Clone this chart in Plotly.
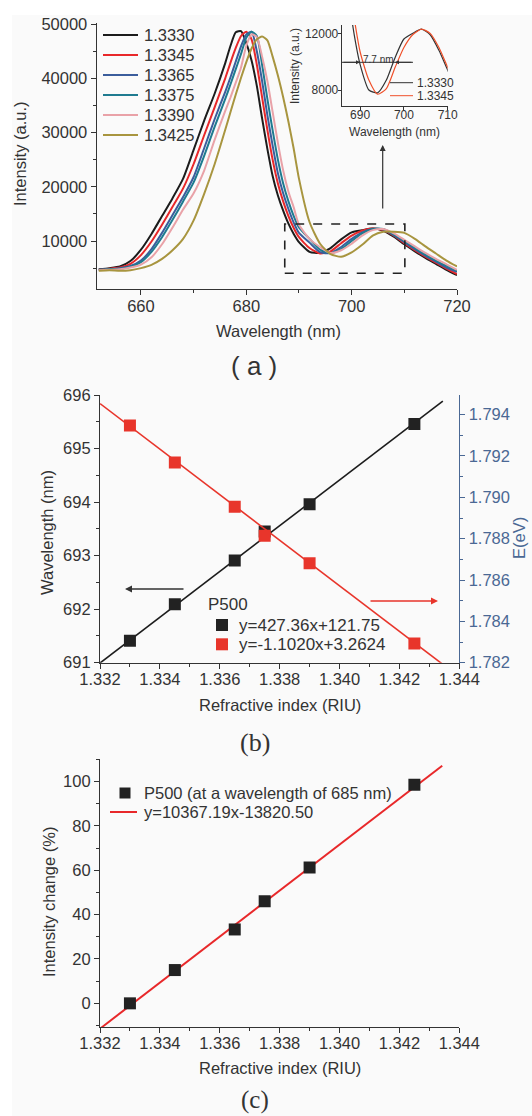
import plotly.graph_objects as go

W, H = 532, 1116

# ---------------- Panel (a): emission spectra ----------------
WAVELENGTH_NM = [652, 654, 656, 658, 660, 662, 664, 666, 668, 670, 672, 674, 676,
                 677, 678, 679, 680, 681, 682, 683, 684, 685, 686, 687, 688, 689, 690,
                 692, 694, 696, 698, 700, 702, 704, 706, 708, 710, 712, 714, 716, 718, 720]

RI_LABELS = ["1.3330", "1.3345", "1.3365", "1.3375", "1.3390", "1.3425"]

INT_13330 = [4800, 5000, 5300, 6300, 8400, 11300, 14600, 17900, 21500, 26800, 32200, 37200, 42800,
             46000, 48500, 48700, 46500, 43300, 38600, 32600, 27000, 22000, 18400, 15600, 13200, 11300, 9800,
             8000, 7800, 8700, 10300, 11600, 12000, 12300, 11900, 10800, 9400, 8100, 6900, 5800, 4700, 3700]
INT_13345 = [4700, 4900, 5100, 5800, 7400, 9900, 13000, 16300, 19700, 24200, 29500, 34700, 40000,
             42900, 45600, 47800, 48600, 47200, 42500, 36500, 30500, 25000, 20600, 17300, 14600, 12400, 10700,
             8700, 7700, 8100, 9600, 11000, 11900, 12300, 12000, 11000, 9600, 8300, 7100, 6000, 4900, 3900]
INT_13365 = [4700, 4800, 5000, 5400, 6400, 8500, 11500, 14800, 18100, 21800, 27100, 32500, 37500,
             40200, 43100, 45900, 48100, 48600, 45000, 39500, 33200, 27600, 22500, 18800, 15900, 13400, 11500,
             9700, 7950, 7750, 8900, 10400, 11600, 12200, 12100, 11100, 9800, 8500, 7300, 6200, 5100, 4300]
INT_13375 = [4700, 4800, 4900, 5250, 6100, 8000, 10700, 13900, 17300, 20800, 25700, 31100, 36200,
             38900, 41700, 44500, 47500, 48600, 47800, 42500, 36200, 30400, 25000, 20600, 17300, 14600, 12500,
             10400, 8400, 7750, 8500, 10000, 11400, 12200, 12200, 11200, 10000, 8700, 7500, 6400, 5400, 4500]
INT_13390 = [4600, 4700, 4800, 5100, 5650, 7000, 9400, 12500, 15800, 18800, 23000, 28700, 34000,
             36500, 39200, 42000, 46000, 48100, 47600, 44000, 39500, 33800, 28100, 23000, 19100, 16200, 13000,
             10400, 8900, 7800, 8300, 9500, 11000, 12000, 12200, 11400, 10200, 9000, 7800, 6700, 5700, 4700]
INT_13425 = [4500, 4600, 4500, 4600, 5000, 5600, 6700, 8300, 10400, 13800, 18700, 24200, 30500,
             33800, 37000, 40100, 43000, 45500, 47200, 47700, 47000, 44000, 40500, 36500, 32000, 27000, 21500,
             13500, 9500, 7600, 7100, 7900, 9300, 11000, 11700, 11700, 11500, 10400, 9000, 7700, 6400, 5300]

SPECTRA = [INT_13330, INT_13345, INT_13365, INT_13375, INT_13390, INT_13425]
LINE_COLORS = ["#1c1c1c", "#e8282a", "#3b5d9c", "#1f7b90", "#e9a2a8", "#a8953f"]
INSET_COLORS = ["#333333", "#f0502a"]

# ---------------- Panel (b): dip wavelength / energy ----------------
RI = [1.3330, 1.3345, 1.3365, 1.3375, 1.3390, 1.3425]
DIP_WL = [691.41, 692.09, 692.91, 693.45, 693.96, 695.46]
DIP_E = [1.79348, 1.79169, 1.78954, 1.78814, 1.78681, 1.78293]
WL_FIT = (427.36, 121.75)
E_FIT = (-1.1020, 3.2624)
FIT_X_B = [1.332, 1.34345]

# ---------------- Panel (c): intensity change ----------------
INT_CHANGE = [0.0, 15.0, 33.3, 46.0, 61.2, 98.5]
IC_FIT = (10367.19, -13820.50)
FIT_X_C = [1.332, 1.34343]

FONT = "Liberation Sans, Arial, sans-serif"
SERIF = "Liberation Serif, Times New Roman, serif"
TXT = "#333333"
BLUE_AX = "#4a6894"


def px(x):
    return x / W


def py(y):
    return 1 - y / H


fig = go.Figure()

for lab, ys, col in zip(RI_LABELS, SPECTRA, LINE_COLORS):
    fig.add_trace(go.Scatter(x=WAVELENGTH_NM, y=ys, mode="lines", name=lab,
                             line=dict(color=col, width=2, shape="spline", smoothing=0.6),
                             xaxis="x", yaxis="y", showlegend=False))
for lab, ys, col in zip(RI_LABELS[:2], SPECTRA[:2], INSET_COLORS):
    fig.add_trace(go.Scatter(x=WAVELENGTH_NM, y=ys, mode="lines", name=lab,
                             line=dict(color=col, width=1.2, shape="spline", smoothing=0.6),
                             xaxis="x2", yaxis="y2", showlegend=False))

fig.add_trace(go.Scatter(x=FIT_X_B, y=[WL_FIT[0] * v + WL_FIT[1] for v in FIT_X_B], mode="lines",
                         line=dict(color="#1c1c1c", width=1.6), xaxis="x3", yaxis="y3", showlegend=False))
fig.add_trace(go.Scatter(x=RI, y=DIP_WL, mode="markers",
                         marker=dict(symbol="square", size=12, color="#222222"),
                         xaxis="x3", yaxis="y3", showlegend=False))
fig.add_trace(go.Scatter(x=FIT_X_B, y=[E_FIT[0] * v + E_FIT[1] for v in FIT_X_B], mode="lines",
                         line=dict(color="#e8352b", width=1.6), xaxis="x3", yaxis="y4", showlegend=False))
fig.add_trace(go.Scatter(x=RI, y=DIP_E, mode="markers",
                         marker=dict(symbol="square", size=12, color="#e8352b"),
                         xaxis="x3", yaxis="y4", showlegend=False))

fig.add_trace(go.Scatter(x=FIT_X_C, y=[IC_FIT[0] * v + IC_FIT[1] for v in FIT_X_C], mode="lines",
                         line=dict(color="#e8282a", width=2), xaxis="x5", yaxis="y5", showlegend=False))
fig.add_trace(go.Scatter(x=RI, y=INT_CHANGE, mode="markers",
                         marker=dict(symbol="square", size=12, color="#222222"),
                         xaxis="x5", yaxis="y5", showlegend=False))


def axis(size=16.5, color=TXT, **kw):
    d = dict(showline=True, linecolor=color, linewidth=1.2, ticks="outside", ticklen=5,
             tickwidth=1.2, tickcolor=color, showgrid=False, zeroline=False,
             tickfont=dict(size=size, color=color, family=FONT), fixedrange=True)
    d.update(kw)
    return d


def minor(dt, t0, color=TXT, ticks="outside"):
    return dict(ticks=ticks, ticklen=3, tickwidth=1, tickcolor=color, dtick=dt, tick0=t0, showgrid=False)


fig.update_layout(
    width=W, height=H, autosize=False, template="none",
    margin=dict(l=0, r=0, t=0, b=0),
    paper_bgcolor="white", plot_bgcolor="rgba(0,0,0,0)",
    font=dict(family=FONT, color=TXT),
    xaxis=axis(domain=[px(96.7), px(457)], range=[651.6, 720], anchor="y",
               tick0=660, dtick=20, minor=minor(10, 650), ticklabelstandoff=-3),
    yaxis=axis(domain=[py(289), py(23)], range=[1150, 50200], anchor="x",
               tick0=0, dtick=10000, tickformat="d", minor=minor(5000, 0)),
    xaxis2=axis(size=12, domain=[px(341.7), px(447.7)], range=[685.8, 710], anchor="y2",
                tick0=690, dtick=10, ticklen=3, linewidth=1, ticklabelstandoff=-5),
    yaxis2=axis(size=12, domain=[py(106), py(25)], range=[6870, 12590], anchor="x2",
                tick0=0, dtick=4000, tickformat="d", ticklen=3, linewidth=1, ticklabelstandoff=-3),
    xaxis3=axis(domain=[px(100), px(459.3)], range=[1.332, 1.344], anchor="y3",
                tick0=1.332, dtick=0.002, tickformat=".3f", minor=minor(0.001, 1.332),
                ticklabelstandoff=-4),
    xaxis4=axis(overlaying="x3", side="top", anchor="y3", range=[1.332, 1.344],
                tick0=1.332, dtick=0.002, ticks="inside", showticklabels=False,
                minor=minor(0.001, 1.332, ticks="inside")),
    yaxis3=axis(domain=[py(662.7), py(395)], range=[691, 696], anchor="x3",
                tick0=691, dtick=1, minor=minor(0.5, 691)),
    yaxis4=axis(color=BLUE_AX, overlaying="y3", side="right", anchor="x3",
                range=[1.782, 1.79495], tick0=1.782, dtick=0.002, tickformat=".3f",
                minor=minor(0.001, 1.782, color=BLUE_AX)),
    xaxis5=axis(domain=[px(100), px(459.3)], range=[1.332, 1.344], anchor="y5",
                tick0=1.332, dtick=0.002, tickformat=".3f", minor=minor(0.001, 1.332),
                ticklabelstandoff=-4),
    yaxis5=axis(domain=[py(1027.3), py(759.3)], range=[-10.8, 110], anchor="x5",
                tick0=0, dtick=20, minor=minor(10, 0)),
)

shapes = []
shapes.append(dict(type="rect", xref="paper", yref="paper", x0=px(12), x1=1, y0=0, y1=py(15),
                   fillcolor="#fafafa", line=dict(width=0), layer="below"))
shapes.append(dict(type="rect", xref="x", yref="y", x0=687.3, x1=710.1, y0=4050, y1=13130,
                   line=dict(color="#222222", width=1.6, dash="dash")))
for i, col in enumerate(LINE_COLORS):
    yy = py(35 + 20 * i)
    shapes.append(dict(type="line", xref="paper", yref="paper", x0=px(103), x1=px(138), y0=yy, y1=yy,
                       line=dict(color=col, width=2)))
for i, col in enumerate(INSET_COLORS):
    yy = py(82.7 + 13 * i)
    shapes.append(dict(type="line", xref="paper", yref="paper", x0=px(390), x1=px(413), y0=yy, y1=yy,
                       line=dict(color=col, width=1)))
shapes.append(dict(type="line", xref="paper", yref="paper", x0=px(342), x1=px(413), y0=py(62.3), y1=py(62.3),
                   line=dict(color="#333333", width=1)))
for yy, col in [(625, "#222222"), (644.3, "#e8352b")]:
    shapes.append(dict(type="rect", xref="paper", yref="paper", x0=px(216), x1=px(228),
                       y0=py(yy + 6), y1=py(yy - 6), fillcolor=col, line=dict(width=0)))
shapes.append(dict(type="rect", xref="paper", yref="paper", x0=px(119.5), x1=px(130.5),
                   y0=py(798.5), y1=py(787.5), fillcolor="#222222", line=dict(width=0)))
shapes.append(dict(type="line", xref="paper", yref="paper", x0=px(110), x1=px(137), y0=py(812), y1=py(812),
                   line=dict(color="#e8282a", width=2)))
fig.update_layout(shapes=shapes)

ann = []


def text(t, x, y, size=16.5, angle=0, xanchor="center", color=TXT, family=FONT):
    ann.append(dict(text=t, x=px(x), y=py(y), xref="paper", yref="paper", showarrow=False,
                    textangle=angle, xanchor=xanchor, yanchor="middle",
                    font=dict(size=size, color=color, family=family)))


def arrow(xh, yh, ax, ay, color="#333333", width=1.2, size=1.0):
    ann.append(dict(text="", x=px(xh), y=py(yh), xref="paper", yref="paper", showarrow=True,
                    ax=ax, ay=ay, axref="pixel", ayref="pixel", arrowhead=2, arrowsize=size,
                    arrowwidth=width, arrowcolor=color))


text("Intensity (a.u.)", 20, 154, angle=-90)
text("Wavelength (nm)", 278, 331)
text("( a )", 254, 366, size=26)
for i, lab in enumerate(RI_LABELS):
    text(lab, 142, 35 + 20 * i, xanchor="left")
text("Intensity (a.u.)", 295, 66, size=12, angle=-90)
text("Wavelength (nm)", 395, 132, size=12)
for i, lab in enumerate(RI_LABELS[:2]):
    text(lab, 415, 82.7 + 13 * i, size=12, xanchor="left")
text("7.7 nm", 378, 59, size=10)
arrow(360, 62.3, -18, 0, width=1, size=0.8)
arrow(395, 62.3, 18, 0, width=1, size=0.8)
arrow(382.7, 145, 0, 65, width=1.2)

text("Wavelength (nm)", 47, 533, angle=-90)
text("E(eV)", 519, 538, angle=-90, color=BLUE_AX)
text("Refractive index (RIU)", 280, 705)
text("(b)", 255, 742, size=26, family=SERIF)
text("P500", 206, 604, size=17, xanchor="left")
text("y=427.36x+121.75", 237, 625, size=17, xanchor="left")
text("y=-1.1020x+3.2624", 237, 644.3, size=17, xanchor="left")
arrow(125, 589, 60, 0, color="#333333", width=1.4)
arrow(438, 601, -69, 0, color="#e8352b", width=1.4)

text("Intensity change (%)", 49, 902, angle=-90)
text("Refractive index (RIU)", 280, 1068)
text("(c)", 255, 1100, size=25, family=SERIF)
text("P500 (at a wavelength of 685 nm)", 142, 793, size=16.5, xanchor="left")
text("y=10367.19x-13820.50", 142, 812, size=16.5, xanchor="left")

fig.update_layout(annotations=ann)

fig.write_html("out.html", config={"displayModeBar": False},
               post_script="document.body.style.margin='0px';document.body.style.overflow='hidden';")
